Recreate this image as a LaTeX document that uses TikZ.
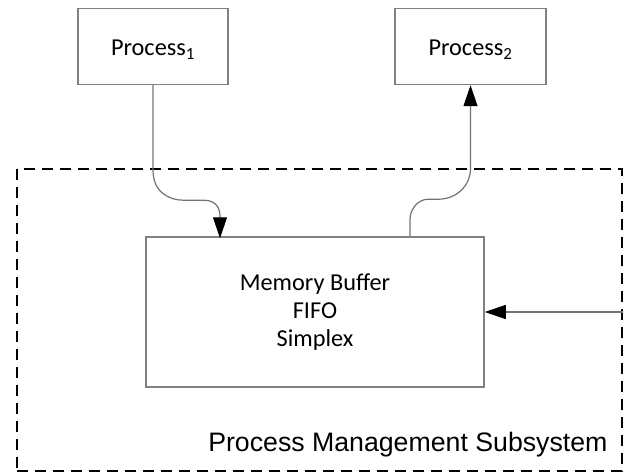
\documentclass[tikz,border=0pt]{standalone}
\usepackage{fontspec}
\setmainfont{Carlito}
\newfontfamily\subsysfont{Liberation Sans}
\usetikzlibrary{arrows.meta}

\begin{document}
\begin{tikzpicture}[x=1pt,y=-1pt,font=\fontsize{24.3}{28}\selectfont]
        \tikzstyle{process}=[rectangle,draw=black!50,line width=1.5pt,minimum height=76pt,inner sep=0pt,text height=20pt,text depth=2pt]
        \tikzstyle{buffer}=[rectangle,draw=black!50,line width=1.5pt,minimum width=338pt,minimum height=150pt,align=center]
        \tikzstyle{subsystem}=[rectangle,draw=black,line width=2pt,dash pattern=on 11pt off 7pt,minimum width=605pt,minimum height=302pt]
        \tikzstyle{link}=[draw=black!55,line width=1.2pt,-{Triangle[length=21pt,width=14pt,color=black]}]
        \tikzstyle{annot}=[font=\subsysfont\fontsize{26.7}{30}\selectfont]

        \useasboundingbox (0,0) rectangle (626,473);

        % The two processes
        \node[process,minimum width=150pt] (P-1) at (153,46.5) {Process\textsubscript{1}};
        \node[process,minimum width=151pt] (P-2) at (470.5,46.5) {Process\textsubscript{2}};

        % The subsystem and the buffer inside it
        \node[subsystem] (pms) at (319.5,320) {};
        \node[buffer] (buf) at (315,312) {Memory Buffer\\FIFO\\Simplex};
        \node[annot,anchor=base east] (pms-label) at ([xshift=-12pt,yshift=21pt]pms.south east) {Process Management Subsystem};

        % Process 1 writes into the buffer
        \draw[link] (P-1.south) -- ++(0,85)
            .. controls +(0,22) and +(-15,0) .. ++(31,30) -- ++(20,0)
            .. controls +(12,0) and +(0,-8) .. ++(16,16) -- ++(0,22);

        % Process 2 reads from the buffer
        \draw[link] ([xshift=95pt]buf.north) -- ++(0,-17)
            .. controls +(0,-10) and +(-10,0) .. ++(18,-20) -- ++(10,0)
            .. controls +(18,0) and +(0,18) .. ++(32.5,-31) -- (P-2.south);

        % Input from outside the subsystem
        \draw[link] (pms.east |- buf.east) -- (buf.east);
\end{tikzpicture}
\end{document}
